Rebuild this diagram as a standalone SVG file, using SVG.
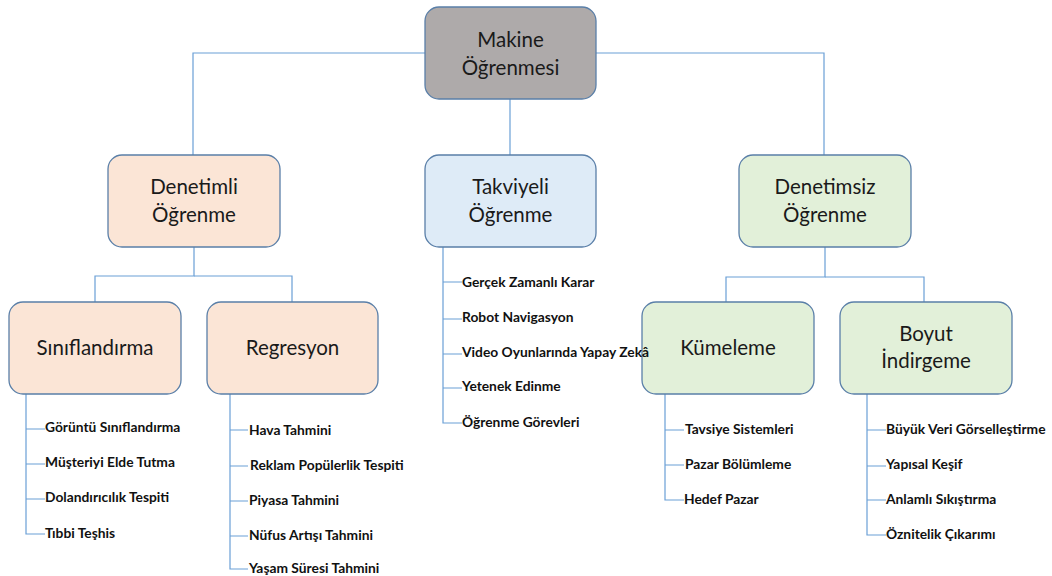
<svg xmlns="http://www.w3.org/2000/svg" width="1052" height="576" viewBox="0 0 1052 576">
  <style>
    .box { stroke: #5A7FA8; stroke-width: 1.3; }
    .root { fill: #AEAAAA; }
    .sup { fill: #FBE5D6; }
    .rl { fill: #DEEBF7; }
    .uns { fill: #E2F0D9; }
    .lbl { font-family: Lato, "Liberation Sans", sans-serif; font-size: 20.5px; fill: #1a1a1a; text-anchor: middle; }
    .item { font-family: Lato, "Liberation Sans", sans-serif; font-size: 13.8px; font-weight: bold; fill: #111; }
    #connectors path { fill: none; stroke: #6A9FD6; stroke-width: 1.2; }
  </style>

  <g id="connectors">
    <!-- root to first level -->
    <path d="M425 53 H193 V155"/>
    <path d="M596 53 H824 V155"/>
    <path d="M510 99 V155"/>
    <!-- supervised branch -->
    <path d="M194 247 V276 H95 V302"/>
    <path d="M194 276 H292 V302"/>
    <!-- unsupervised branch -->
    <path d="M825 247 V277 H726 V302"/>
    <path d="M825 277 H924 V302"/>
    <!-- lists -->
    <path d="M26 394 V534 H45 M26 429 H45 M26 464 H45 M26 499 H45"/>
    <path d="M230 394 V569 H248 M230 430 H248 M230 466 H248 M230 501 H248 M230 536 H248"/>
    <path d="M443 247 V423 H462 M443 282 H462 M443 319 H462 M443 354 H462 M443 388 H462"/>
    <path d="M665 394 V500 H684 M665 430 H684 M665 465 H684"/>
    <path d="M867 394 V535 H886 M867 430 H886 M867 466 H886 M867 500 H886"/>
  </g>

  <g id="makine-ogrenmesi">
    <rect class="box root" x="425" y="7" width="171" height="92" rx="14"/>
    <text class="lbl" x="510.5" y="47">Makine</text>
    <text class="lbl" x="510.5" y="75">Öğrenmesi</text>
  </g>

  <g id="denetimli">
    <rect class="box sup" x="108" y="155" width="172" height="92" rx="14"/>
    <text class="lbl" x="194" y="194">Denetimli</text>
    <text class="lbl" x="194" y="222">Öğrenme</text>
  </g>

  <g id="takviyeli">
    <rect class="box rl" x="425" y="155" width="171" height="92" rx="14"/>
    <text class="lbl" x="510.5" y="194">Takviyeli</text>
    <text class="lbl" x="510.5" y="222">Öğrenme</text>
  </g>

  <g id="denetimsiz">
    <rect class="box uns" x="739" y="155" width="172" height="92" rx="14"/>
    <text class="lbl" x="825" y="194">Denetimsiz</text>
    <text class="lbl" x="825" y="222">Öğrenme</text>
  </g>

  <g id="siniflandirma">
    <rect class="box sup" x="9" y="302" width="172" height="92" rx="14"/>
    <text class="lbl" x="95" y="355">Sınıflandırma</text>
  </g>

  <g id="regresyon">
    <rect class="box sup" x="207" y="302" width="171" height="92" rx="14"/>
    <text class="lbl" x="292.5" y="355">Regresyon</text>
  </g>

  <g id="kumeleme">
    <rect class="box uns" x="642" y="302" width="172" height="92" rx="14"/>
    <text class="lbl" x="728" y="355">Kümeleme</text>
  </g>

  <g id="boyut-indirgeme">
    <rect class="box uns" x="840" y="302" width="172" height="92" rx="14"/>
    <text class="lbl" x="926" y="341">Boyut</text>
    <text class="lbl" x="926" y="368">İndirgeme</text>
  </g>

  <g id="siniflandirma-list">
    <text class="item" x="45" y="432">Görüntü Sınıflandırma</text>
    <text class="item" x="45" y="467">Müşteriyi Elde Tutma</text>
    <text class="item" x="45" y="502">Dolandırıcılık Tespiti</text>
    <text class="item" x="45" y="538">Tıbbi Teşhis</text>
  </g>

  <g id="regresyon-list">
    <text class="item" x="249" y="435">Hava Tahmini</text>
    <text class="item" x="250" y="470">Reklam Popülerlik Tespiti</text>
    <text class="item" x="249" y="505">Piyasa Tahmini</text>
    <text class="item" x="249" y="540">Nüfus Artışı Tahmini</text>
    <text class="item" x="249" y="573">Yaşam Süresi Tahmini</text>
  </g>

  <g id="takviyeli-list">
    <text class="item" x="462" y="287">Gerçek Zamanlı Karar</text>
    <text class="item" x="462" y="322">Robot Navigasyon</text>
    <text class="item" x="462" y="357">Video Oyunlarında Yapay Zekâ</text>
    <text class="item" x="462" y="391">Yetenek Edinme</text>
    <text class="item" x="462" y="427">Öğrenme Görevleri</text>
  </g>

  <g id="kumeleme-list">
    <text class="item" x="685" y="434">Tavsiye Sistemleri</text>
    <text class="item" x="685" y="469">Pazar Bölümleme</text>
    <text class="item" x="684" y="504">Hedef Pazar</text>
  </g>

  <g id="boyut-list">
    <text class="item" x="886" y="434">Büyük Veri Görselleştirme</text>
    <text class="item" x="886" y="469">Yapısal Keşif</text>
    <text class="item" x="886" y="504">Anlamlı Sıkıştırma</text>
    <text class="item" x="886" y="539">Öznitelik Çıkarımı</text>
  </g>
</svg>
